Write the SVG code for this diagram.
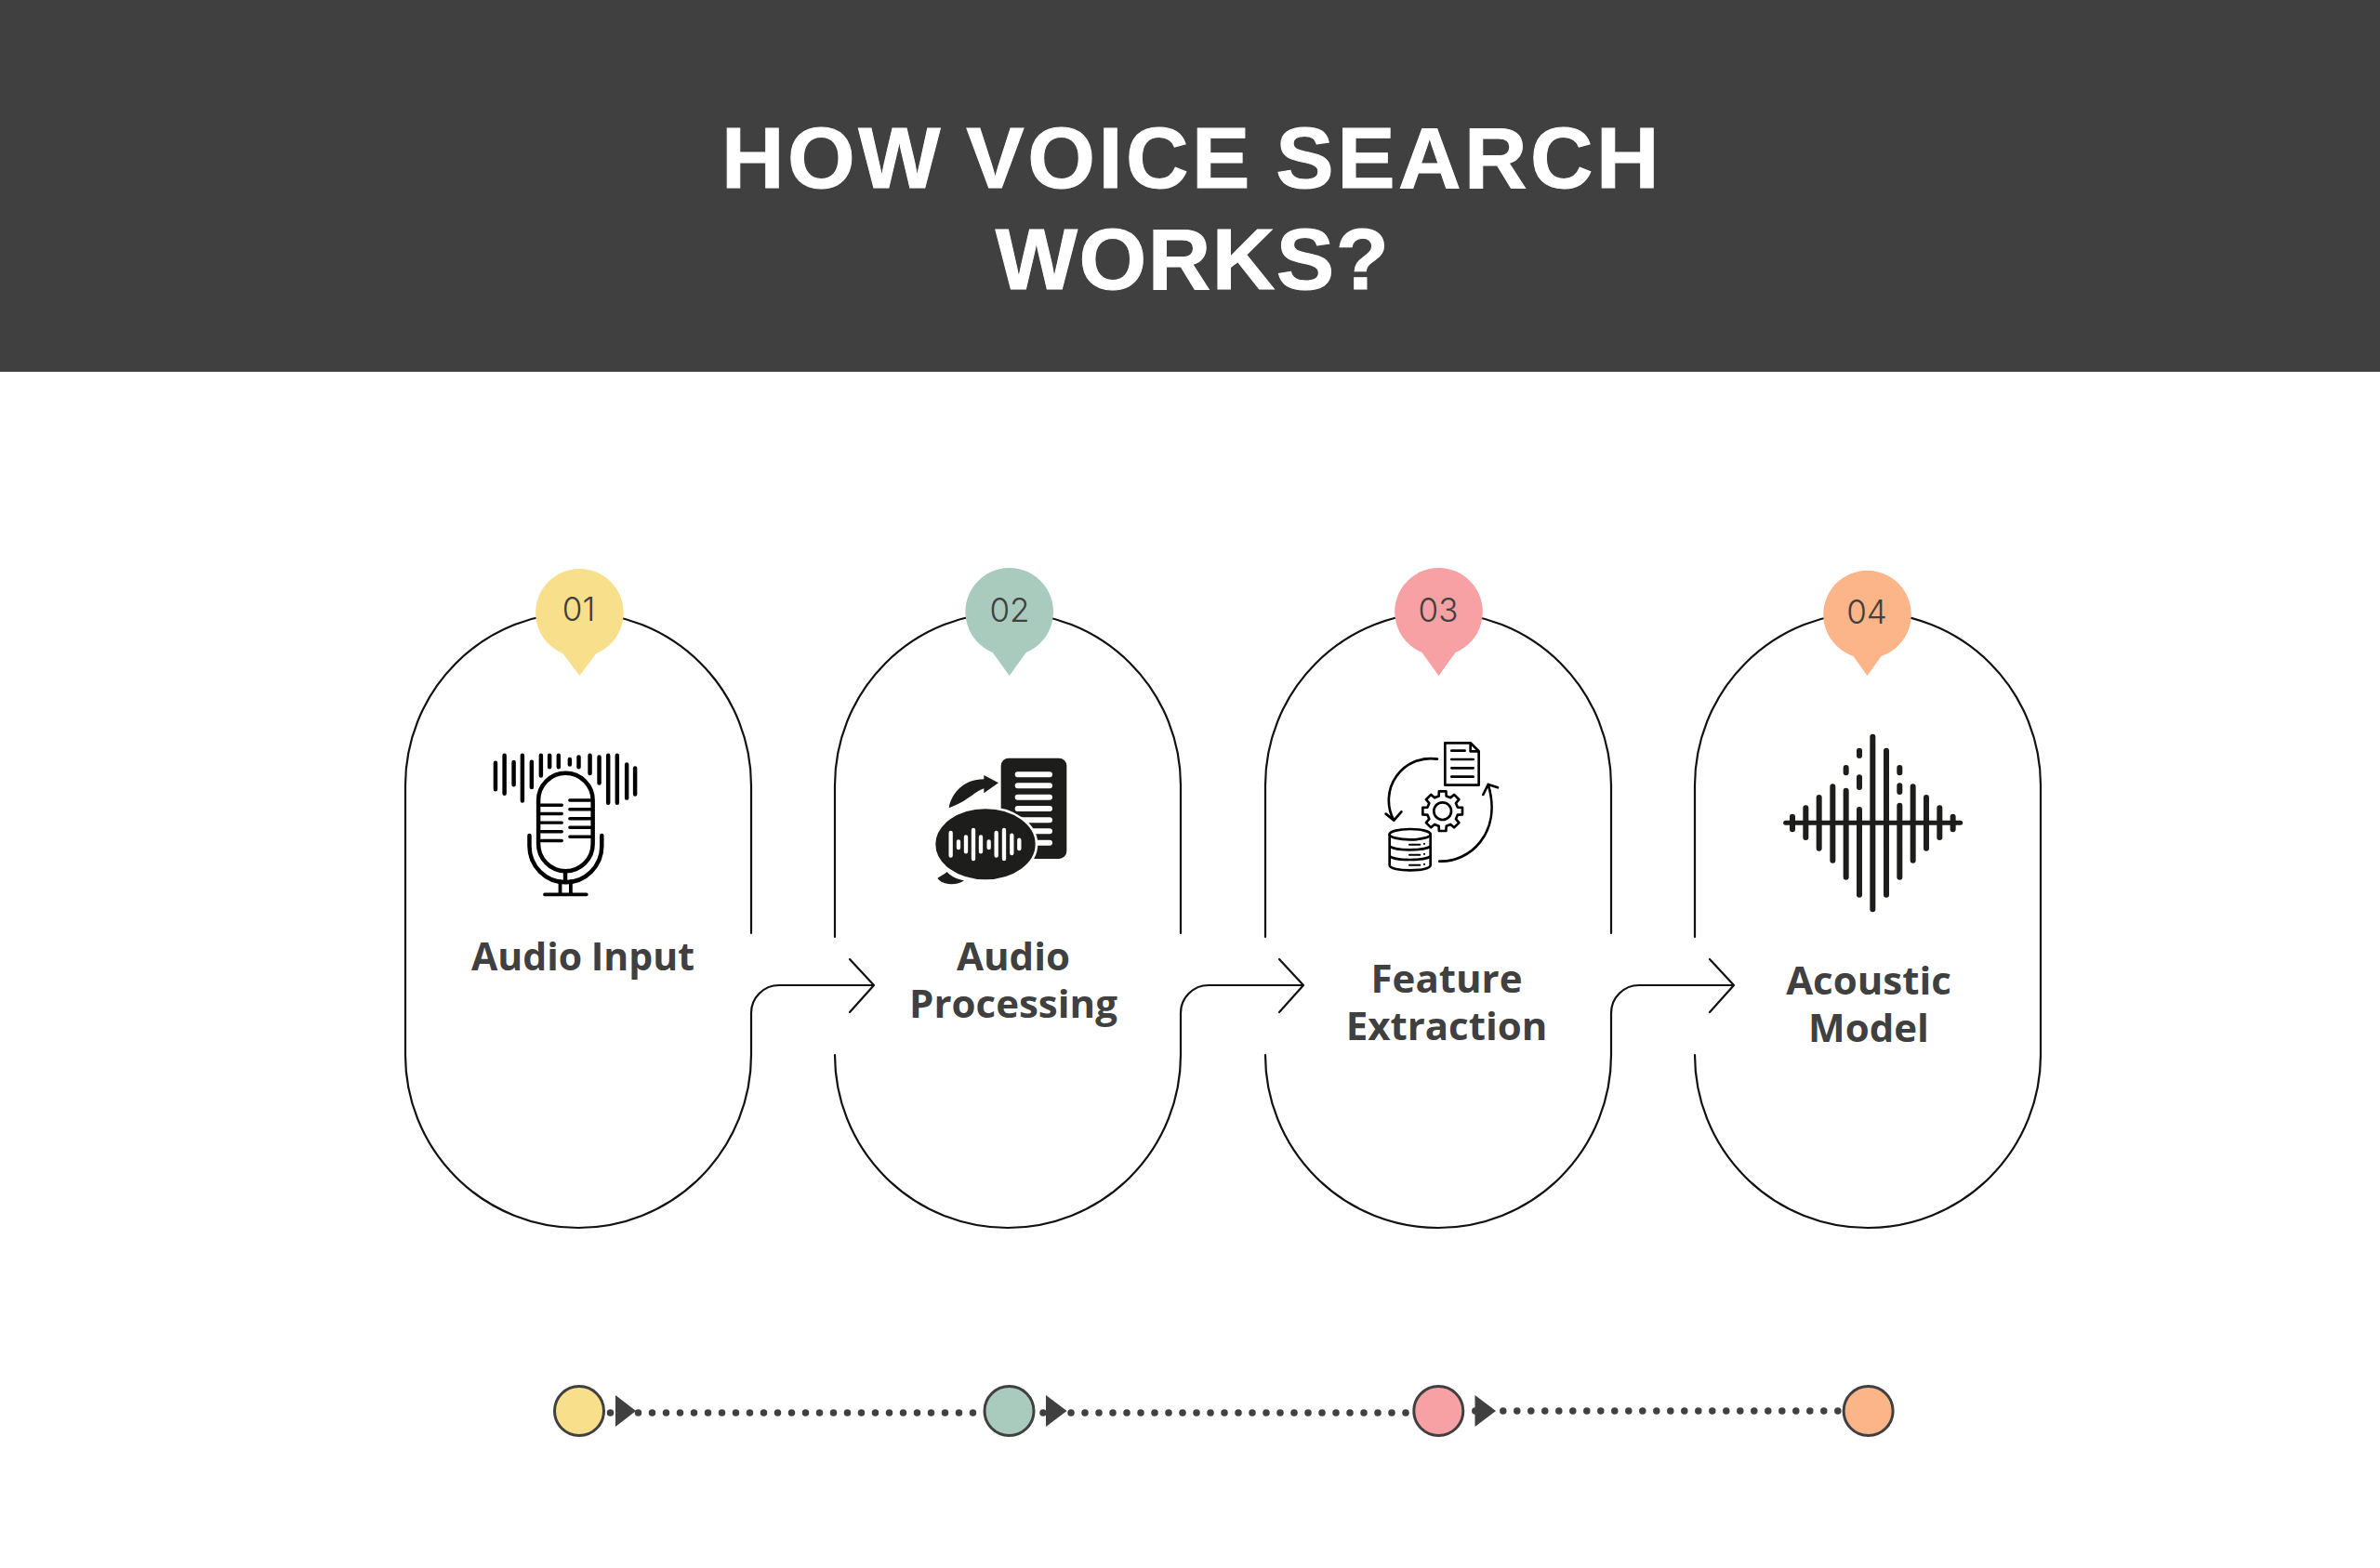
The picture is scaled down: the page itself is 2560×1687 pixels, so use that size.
<svg xmlns="http://www.w3.org/2000/svg" width="2560" height="1687" viewBox="0 0 2560 1687">
<style>
.line{fill:none;stroke:#111;stroke-width:2.2;stroke-linecap:round;stroke-linejoin:round}
.title{font:700 93.500px "Liberation Sans",Arial,sans-serif;fill:#fff;stroke:#fff;stroke-width:1;text-anchor:middle}
.label{font:700 42px "Open Sans","Liberation Sans",sans-serif;fill:#404040;text-anchor:middle}
.num{font:300 35px Inter,"Liberation Sans",sans-serif;fill:#404040;text-anchor:middle}
.dots{fill:none;stroke:#404040;stroke-width:7.5;stroke-linecap:round;stroke-dasharray:0 15}
.dot{stroke:#404040;stroke-width:3}
.tri{fill:#404040}
.ic{fill:none;stroke:#000;stroke-linecap:round;stroke-linejoin:round}
.dk{fill:#1d1d1b}
.w{fill:none;stroke:#fff;stroke-linecap:round}
.k{fill:none;stroke:#1d1d1b;stroke-linecap:round}
</style>
<rect id="header" width="2560" height="400" fill="#404040"/>
<g id="title">
<text class="title" x="1282" y="202" style="letter-spacing:3.5px;word-spacing:-5px">HOW VOICE SEARCH</text>
<text class="title" x="1283" y="311" style="letter-spacing:1.5px">WORKS?</text>
</g>
<g id="connectors">
<path class="line" d="M808 1135V1090A30 30 0 0 1 838 1060H940M914 1032L940 1060L914 1089"/>
<path class="line" d="M1270 1135V1090A30 30 0 0 1 1300 1060H1402M1376 1032L1402 1060L1376 1089"/>
<path class="line" d="M1733 1135V1090A30 30 0 0 1 1763 1060H1865M1839 1032L1865 1060L1839 1089"/>
</g>
<g id="node-1">
<path class="line" d="M808 1004V845A186 186 0 0 0 436 845V1135A186 186 0 0 0 808 1135"/>
<path fill="#F8DF8C" d="M605.400 703A47.300 47.300 0 1 1 641.400 703L623.400 727Z"/>
<text class="num" x="622.500" y="668">01</text>
<g transform="translate(420 590) scale(.3444)">
<path class="ic" stroke-width="13" d="M328 670V753M356 647V766M385 668V738M412 647V788M441 667V746M470 647V710M497 647V683M525 647V683M560 659V675M588 652V683M623 647V703M652 652V733M680 647V795M708 647V795M738 675V780M764 687V768"/>
<rect class="ic" stroke-width="13" x="462" y="702" width="170" height="306" rx="85"/>
<path class="ic" stroke-width="10" d="M470 802H535M470 829H535M470 857H535M470 885H535M470 913H535M560 787H625M560 815H625M560 844H625M560 872H625M560 901H625"/>
<path class="ic" stroke-width="13" d="M434 897V930A113 113 0 0 0 660 930V897M546 1010V1040"/>
<path class="ic" stroke-width="11" d="M530 1040V1080M563 1040V1080M482 1081H612"/>
</g>
<text class="label" x="627" y="1044" style="font-size:41px;word-spacing:-1px">Audio Input</text>
</g>
<g id="node-2">
<path class="line" d="M1270 1004V845A186 186 0 0 0 898 845V1008M898 1135A186 186 0 0 0 1270 1135"/>
<path fill="#A9CBBD" d="M1067.700 702A47.300 47.300 0 1 1 1103.700 702L1085.700 727Z"/>
<text class="num" x="1086" y="669">02</text>
<g transform="translate(960 590) scale(.3333)">
<rect class="dk" x="350" y="677" width="212" height="325" rx="25"/>
<path class="w" stroke-width="18" d="M404 730H507M404 766H507M404 803H507M404 840H507M404 877H507M404 913H507M404 950H507"/>
<path class="dk" d="M182 838C190 790 230 745 295 745V732L342 757L295 790V775C265 785 245 815 182 838Z"/>
<ellipse class="dk" cx="300" cy="955" rx="165" ry="118" stroke="#fff" stroke-width="8"/>
<path class="dk" d="M145 1065C155 1058 168 1052 176 1044C190 1060 210 1068 231 1072C210 1088 165 1090 145 1065Z"/>
<path class="w" stroke-width="13" d="M188 918V992M213 946V966M237 931V979M261 909V1002M285 931V979M311 946V966M335 918V992M360 909V1002M385 926V984M409 941V969"/>
</g>
<text class="label" x="1090" y="1044">Audio</text>
<text class="label" x="1090" y="1095">Processing</text>
</g>
<g id="node-3">
<path class="line" d="M1733 1004V845A186 186 0 0 0 1361 845V1008M1361 1135A186 186 0 0 0 1733 1135"/>
<path fill="#F7A1A4" d="M1529.500 702A47.300 47.300 0 1 1 1565.500 702L1547.500 727Z"/>
<text class="num" x="1547" y="669">03</text>
<g transform="translate(1440 590) scale(.3333)">
<path class="ic" stroke-width="8" d="M343 628H425L452 655V764H343ZM425 630V655H450M364 653H407M364 681H434M364 709H434M364 737H434"/>
<path class="ic" stroke-width="8" d="M318 680A135 135 0 0 0 178 878M152 857L178 878L202 850M325 1010C420 1015 530 920 482 762M466 795L482 762L513 772"/>
<g transform="translate(335 848)">
<polygon class="ic" stroke-width="8" points="48.500,-12.100 64,-11.300 64,11.300 48.500,12.100 42.900,25.700 53.200,37.300 37.300,53.200 25.700,42.900 12.100,48.500 11.300,64 -11.300,64 -12.100,48.500 -25.700,42.900 -37.300,53.200 -53.200,37.300 -42.900,25.700 -48.500,12.100 -64,11.300 -64,-11.300 -48.500,-12.100 -42.900,-25.700 -53.200,-37.300 -37.300,-53.200 -25.700,-42.900 -12.100,-48.500 -11.300,-64 11.300,-64 12.100,-48.500 25.700,-42.900 37.300,-53.200 53.200,-37.300 42.900,-25.700"/>
<circle class="ic" stroke-width="8" r="28"/>
</g>
<ellipse class="ic" stroke-width="8" cx="230" cy="923" rx="66" ry="17"/>
<path class="ic" stroke-width="8" d="M164 923V1022C164 1045 296 1045 296 1022V923M164 958C164 978 296 978 296 958M164 990C164 1010 296 1010 296 990"/>
<path class="ic" stroke-width="6" d="M228 956H262M228 989H262M228 1022H262M276 953V954M276 986V987M276 1019V1020"/>
</g>
<text class="label" x="1556" y="1068">Feature</text>
<text class="label" x="1556" y="1119">Extraction</text>
</g>
<g id="node-4">
<path class="line" d="M2195 1135V845A186 186 0 0 0 1823 845V1008M1823 1135A186 186 0 0 0 2195 1135"/>
<path fill="#FBB588" d="M1993.500 706A47.300 47.300 0 1 1 2023.500 706L2008.500 727Z"/>
<text class="num" x="2008" y="671">04</text>
<g transform="translate(1880 590) scale(.3333)">
<path class="k" stroke-width="15" d="M122 886H686"/>
<path class="k" stroke-width="18" d="M144 866V907M187 838V933M230 804V968M274 769V1007M317 782V1061M360 843V1118M403 608V1165M447 653V1118M490 830V1061M533 769V1007M576 804V968M619 838V933M662 866V907M360 653V669M360 739V771M317 708V724M490 708V724M490 766V786"/>
</g>
<text class="label" x="2010" y="1070">Acoustic</text>
<text class="label" x="2010" y="1121">Model</text>
</g>
<g id="timeline">
<path class="dots" d="M656.500 1520H1050"/>
<path class="dots" d="M1122 1520H1514"/>
<path class="dots" d="M1586.800 1518H1979"/>
<polygon class="tri" points="662,1501 684,1518 662,1535"/>
<polygon class="tri" points="1125,1501 1147.500,1518 1125,1535"/>
<polygon class="tri" points="1586.500,1501 1609,1518 1586.500,1535"/>
<circle class="dot" cx="623" cy="1518" r="26.500" fill="#F8DF8C"/>
<circle class="dot" cx="1085.500" cy="1518" r="26.500" fill="#A9CBBD"/>
<circle class="dot" cx="1547.300" cy="1518" r="26.500" fill="#F7A1A4"/>
<circle class="dot" cx="2009.600" cy="1518" r="26.500" fill="#FBB588"/>
</g>
</svg>
